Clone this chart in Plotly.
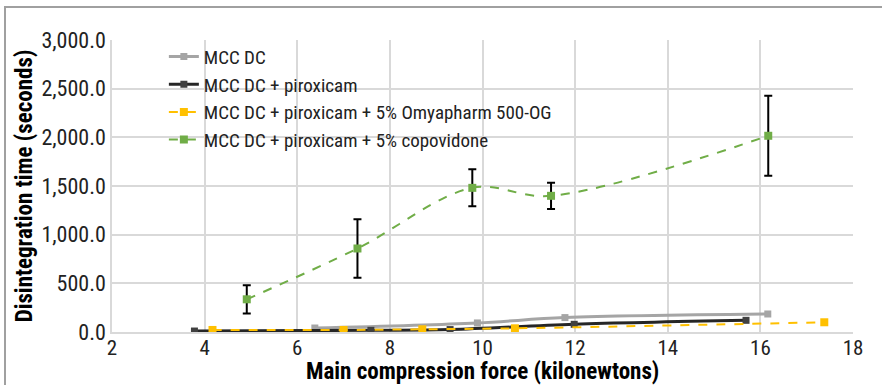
import plotly.graph_objects as go

# Disintegration time versus main compression force
mcc_x = [6.38, 9.89, 11.78, 16.16]
mcc_y = [41, 93, 148, 185]

pirox_x = [3.78, 7.59, 9.30, 11.98, 15.69]
pirox_y = [10, 17, 25, 79, 120]

omya_x = [4.17, 7.00, 8.70, 10.70, 17.38]
omya_y = [21, 21, 28, 38, 100]

copo_x = [4.91, 7.30, 9.78, 11.48, 16.17]
copo_y = [336, 858, 1481, 1399, 2016]
copo_err = [145, 300, 190, 135, 411]

series_names = [
    "MCC DC",
    "MCC DC + piroxicam",
    "MCC DC + piroxicam + 5% Omyapharm 500-OG",
    "MCC DC + piroxicam + 5% copovidone",
]

x_ticks = [2, 4, 6, 8, 10, 12, 14, 16, 18]
y_ticks = [0, 500, 1000, 1500, 2000, 2500, 3000]

x_title = "Main compression force (kilonewtons)"
y_title = "Disintegration time (seconds)"

FONT = "Liberation Sans Narrow, Roboto Condensed, Arial Narrow, Roboto, sans-serif"

fig = go.Figure()

fig.add_trace(go.Scatter(
    x=mcc_x, y=mcc_y, name=series_names[0], mode="lines+markers",
    line=dict(color="#A5A5A5", width=3, shape="spline"),
    marker=dict(symbol="square", size=7, color="#A5A5A5"),
))
fig.add_trace(go.Scatter(
    x=pirox_x, y=pirox_y, name=series_names[1], mode="lines+markers",
    line=dict(color="#262626", width=3, shape="spline"),
    marker=dict(symbol="square", size=7, color="#404040"),
))
fig.add_trace(go.Scatter(
    x=omya_x, y=omya_y, name=series_names[2], mode="lines+markers",
    line=dict(color="#FFC000", width=2, dash="dash", shape="spline"),
    marker=dict(symbol="square", size=8, color="#FFC000"),
))
fig.add_trace(go.Scatter(
    x=copo_x, y=copo_y, name=series_names[3], mode="lines+markers",
    line=dict(color="#70AD47", width=2, dash="dash", shape="spline"),
    marker=dict(symbol="square", size=8, color="#70AD47"),
    error_y=dict(type="data", array=copo_err, visible=True,
                 color="#000000", thickness=2, width=4),
))

PLOT_H = 292  # plot area height in px (385 - 40 - 53)

fig.update_layout(
    width=882, height=385,
    margin=dict(l=112, r=29, t=40, b=53),
    paper_bgcolor="white", plot_bgcolor="white",
    font=dict(family=FONT, size=22, color="#222222"),
    showlegend=True,
    legend=dict(
        x=0.070, y=1.008, xanchor="left", yanchor="top",
        bgcolor="rgba(0,0,0,0)", font=dict(size=19, family=FONT, color="#222222"),
        itemwidth=30, tracegroupgap=0, traceorder="normal",
    ),
    xaxis=dict(
        range=[2, 18], tickvals=x_ticks, ticktext=[str(v) for v in x_ticks],
        showgrid=True, gridcolor="#D9D9D9", gridwidth=1.5,
        zeroline=False, showline=True, linecolor="#D9D9D9", linewidth=1.5,
        ticks="", tickfont=dict(size=21), automargin=False,
        ticklabelstandoff=-4,
    ),
    yaxis=dict(
        range=[0, 3000], tickvals=y_ticks,
        ticktext=[f"{v:,.1f}" for v in y_ticks],
        showgrid=True, gridcolor="#D9D9D9", gridwidth=1.5,
        zeroline=False, showline=True, linecolor="#D9D9D9", linewidth=1.5,
        ticks="", tickfont=dict(size=22), automargin=False,
        title=dict(text=f"<b>{y_title}</b>",
                   font=dict(size=23, color="#000000"), standoff=2),
    ),
)

# X-axis title placed just under the tick labels
fig.add_annotation(
    text=f"<b>{x_title}</b>", xref="paper", yref="paper",
    x=0.5, y=-(371 - 332) / PLOT_H, xanchor="center", yanchor="middle",
    showarrow=False, font=dict(size=23, family=FONT, color="#000000"),
)

# Frame around the chart area
fig.add_shape(
    type="rect", xref="paper", yref="paper",
    x0=(5 - 112) / 741, x1=(900 - 112) / 741,
    y0=(332 - 400) / PLOT_H, y1=(332 - 7) / PLOT_H,
    line=dict(color="#A0A0A0", width=2), fillcolor="rgba(0,0,0,0)",
    layer="below",
)

fig.write_html("out.html")
